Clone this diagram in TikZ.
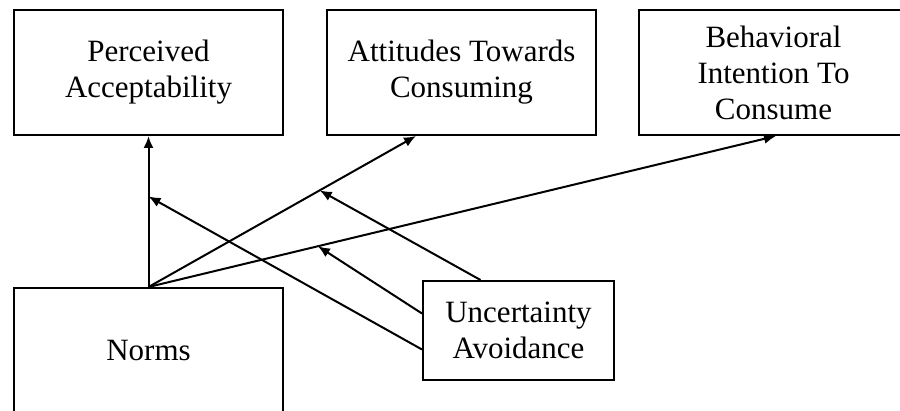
\documentclass[tikz,border=0pt]{standalone}
\usepackage{fontspec}
\setmainfont{Liberation Serif}
\usetikzlibrary{arrows.meta,positioning,calc}

\begin{document}
\begin{tikzpicture}[
    x=0.5pt, y=-0.5pt,
    >={Latex[length=6pt,width=5pt]},
    % construct boxes
    construct/.style={rectangle, draw, line width=1pt, minimum width=134.5pt, minimum height=62.5pt, align=center, inner sep=0, font=\fontsize{15.5}{18}\selectfont},
    moderator/.style={construct, minimum width=95.5pt, minimum height=49.5pt},
    path/.style={->, draw, line width=1pt}
  ]
  \clip (0,0) rectangle (900,411);

  % Outcomes
  \node[construct] (perc) at (148.5,72.5) {Perceived\\Acceptability};
  \node[construct] (att) at (461.5,72.5) {Attitudes Towards\\Consuming};
  \node[construct] (intent) at (773.5,72.5) {Behavioral\\Intention To\\Consume};
  % Predictor and moderator
  \node[construct] (norms) at (148.5,350.5) {Norms};
  \node[moderator] (ua) at (518.5,330.5) {Uncertainty\\Avoidance};

  % Direct effects
  \draw[path] (norms.north) -- coordinate[pos=0.6] (m1) (perc.south);
  \draw[path] (norms.north) -- coordinate[pos=0.64] (m2) ($(att.south west)+(90,0)$);
  \draw[path] (norms.north) -- coordinate[pos=0.27] (m3) ($(intent.south west)+(138,0)$);

  % Moderation
  \draw[path] ($(ua.west)+(0,19)$) -- (m1);
  \draw[path] ($(ua.north)+(-38,0)$) -- (m2);
  \draw[path] ($(ua.west)+(0,-17)$) -- (m3);
\end{tikzpicture}
\end{document}
